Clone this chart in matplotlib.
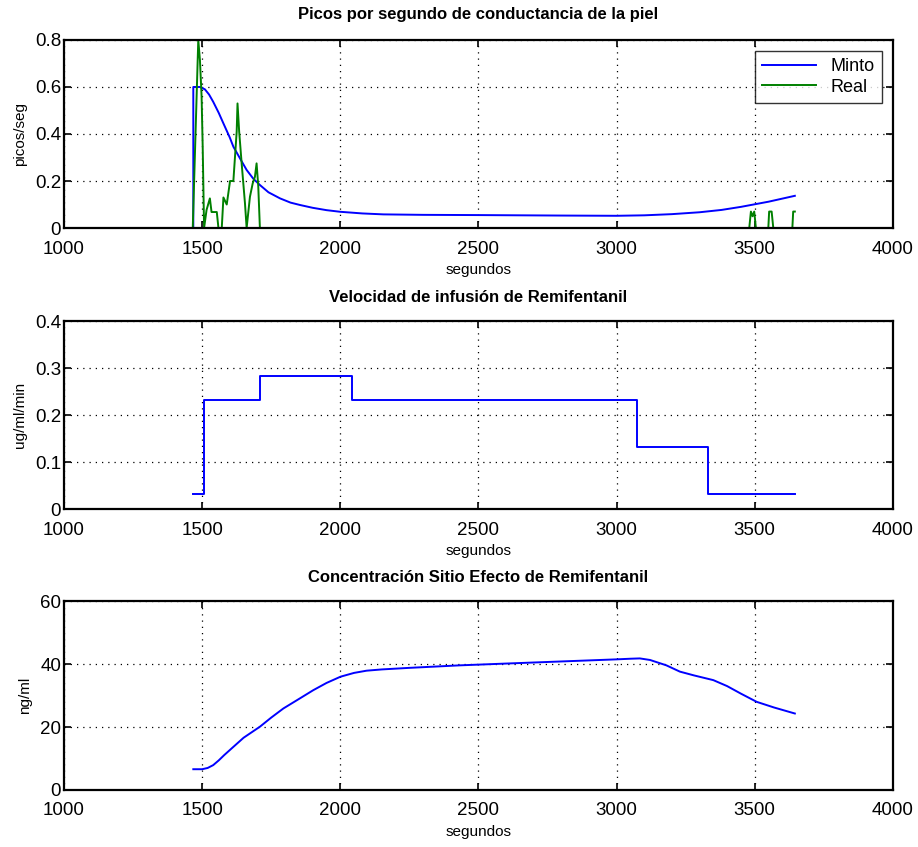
import matplotlib.pyplot as plt
import numpy as np

plt.rcParams['font.family'] = ['Liberation Sans', 'DejaVu Sans']

# picos por segundo - modelo Minto
minto_t = [1468, 1468, 1492, 1510, 1525, 1540, 1560, 1577, 1600, 1613, 1640, 1661,
           1685, 1709, 1740, 1782, 1820, 1854, 1900, 1950, 2000, 2080, 2156, 2300,
           2505, 2800, 3000, 3100, 3200, 3300, 3380, 3450, 3550, 3645]
minto_v = [0.0, 0.60, 0.60, 0.59, 0.568, 0.537, 0.49, 0.445, 0.385, 0.346, 0.29, 0.247,
           0.21, 0.183, 0.152, 0.126, 0.108, 0.098, 0.086, 0.076, 0.069, 0.062, 0.058, 0.056,
           0.055, 0.053, 0.052, 0.054, 0.059, 0.067, 0.077, 0.090, 0.112, 0.137]

# picos por segundo - real
real_t = [1466, 1486, 1492, 1498, 1502, 1507, 1516, 1528, 1534, 1553, 1559, 1571,
          1577, 1589, 1601, 1613, 1625, 1628, 1634, 1643, 1655, 1661, 1673, 1683,
          1691, 1697, 1703, 1709, 3480, 3486, 3492, 3498, 3504, 3549, 3552, 3561,
          3567, 3636, 3639, 3645]
real_v = [0.0, 0.80, 0.715, 0.56, 0.346, 0.0, 0.077, 0.126, 0.068, 0.068, 0.0, 0.0,
          0.13, 0.10, 0.20, 0.20, 0.41, 0.53, 0.41, 0.275, 0.105, 0.0, 0.133, 0.19,
          0.218, 0.275, 0.18, 0.0, 0.0, 0.07, 0.05, 0.07, 0.0, 0.0, 0.07, 0.07,
          0.0, 0.0, 0.07, 0.07]

# velocidad de infusion
inf_t = [1468, 1505, 1709, 2043, 3072, 3329, 3645]
inf_v = [0.033, 0.233, 0.283, 0.233, 0.133, 0.033, 0.033]

# concentracion sitio efecto
ce_t = [1468, 1500, 1520, 1540, 1560, 1580, 1613, 1650, 1709, 1750, 1794, 1850,
        1902, 1950, 2001, 2050, 2095, 2150, 2250, 2433, 2700, 3000, 3050, 3084,
        3121, 3180, 3229, 3280, 3350, 3400, 3450, 3507, 3570, 3645]
ce_v = [6.6, 6.6, 7.0, 7.9, 9.4, 11.1, 13.7, 16.6, 20.1, 23.0, 25.9, 28.9,
        31.7, 34.0, 36.0, 37.2, 37.9, 38.3, 38.8, 39.6, 40.5, 41.5, 41.7, 41.8,
        41.3, 39.6, 37.6, 36.4, 34.9, 33.0, 30.6, 28.0, 26.2, 24.3]

fig = plt.figure(figsize=(9.18, 8.47), dpi=100)
ax1 = fig.add_axes([0.0697, 0.7308, 0.903, 0.222])
ax2 = fig.add_axes([0.0697, 0.399, 0.903, 0.222])
ax3 = fig.add_axes([0.0697, 0.0673, 0.903, 0.223])

ax1.plot(minto_t, minto_v, color=(0, 0, 1), lw=1.4, label='Minto')
ax1.plot(real_t, real_v, color=(0, 0.5, 0), lw=1.4, label='Real')
ax1.set_ylim(0, 0.8)
ax1.set_yticks([0, 0.2, 0.4, 0.6, 0.8])
ax1.set_yticklabels(['0', '0.2', '0.4', '0.6', '0.8'])
ax1.set_ylabel('picos/seg', fontsize=11, labelpad=6)
ax1.set_title('Picos por segundo de conductancia de la piel', fontsize=12, fontweight='bold', pad=15)
leg = ax1.legend(loc='upper right', fontsize=13, fancybox=False, edgecolor='black',
                 handlelength=3, borderaxespad=0.6, labelspacing=0.2)
leg.get_frame().set_linewidth(1.0)

ax2.step(inf_t, inf_v, where='post', color=(0, 0, 1), lw=1.4)
ax2.set_ylim(0, 0.4)
ax2.set_yticks([0, 0.1, 0.2, 0.3, 0.4])
ax2.set_yticklabels(['0', '0.1', '0.2', '0.3', '0.4'])
ax2.set_ylabel('ug/ml/min', fontsize=11, labelpad=6)
ax2.set_title('Velocidad de infusión de Remifentanil', fontsize=12, fontweight='bold', pad=14)

ax3.plot(ce_t, ce_v, color=(0, 0, 1), lw=1.4)
ax3.set_ylim(0, 60)
ax3.set_yticks([0, 20, 40, 60])
ax3.set_ylabel('ng/ml', fontsize=11, labelpad=6)
ax3.set_title('Concentración Sitio Efecto de Remifentanil', fontsize=12, fontweight='bold', pad=14)

for ax in (ax1, ax2, ax3):
    ax.set_xlim(1000, 4000)
    ax.set_xticks([1000, 1500, 2000, 2500, 3000, 3500, 4000])
    ax.set_xlabel('segundos', fontsize=11, labelpad=4)
    ax.grid(True, linestyle=(0, (1, 4)), color='black', lw=0.9)
    ax.tick_params(direction='in', length=5, width=1.2, top=True, right=True,
                   labelsize=13.5)
    ax.tick_params(axis='x', pad=9)
    ax.tick_params(axis='y', pad=2)
    for s in ax.spines.values():
        s.set_linewidth(1.6)

fig.savefig('out.png', dpi=100)
